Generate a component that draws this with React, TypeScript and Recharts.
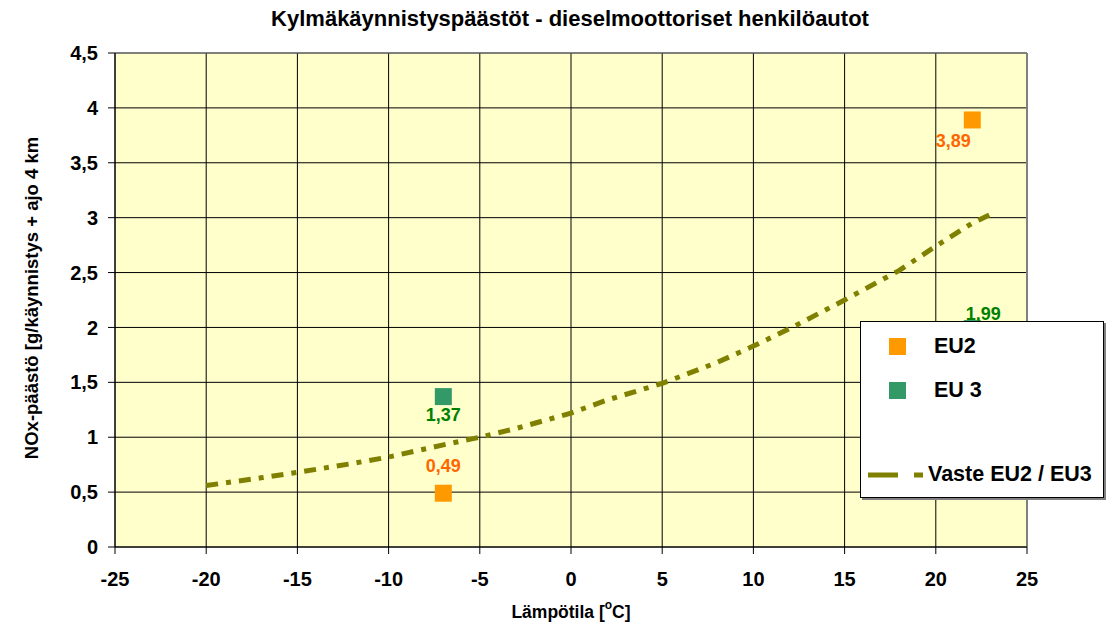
import {
  ComposedChart,
  Scatter,
  XAxis,
  YAxis,
  CartesianGrid,
  ReferenceLine,
} from "recharts";

const FONT = "Arial, 'Liberation Sans', sans-serif";

const xTicks = [-25, -20, -15, -10, -5, 0, 5, 10, 15, 20, 25];
const yTicks = [0, 0.5, 1, 1.5, 2, 2.5, 3, 3.5, 4, 4.5];

const eu2Temps = [-7, 22];
const eu2Values = [0.49, 3.89];
const eu3Temps = [-7, 22];
const eu3Values = [1.37, 1.99];

// Vaste EU2 / EU3 response curve
const curveTemps = [-20, -17, -15, -12, -10, -7, -5, -3, 0, 2, 5, 8, 10, 12, 15, 18, 20, 22, 23];
const curveValues = [0.56, 0.63, 0.68, 0.76, 0.82, 0.93, 1.0, 1.08, 1.22, 1.34, 1.49, 1.68, 1.83, 1.99, 2.25, 2.52, 2.74, 2.95, 3.03];

// label placement for each point [dx, dy]
const eu2LabelOffsets = [[0, -27], [-19, 21]];
const eu3LabelOffsets = [[0, 18], [11, -15]];

const eu2 = eu2Temps.map((t, i) => ({ t, v: eu2Values[i] }));
const eu3 = eu3Temps.map((t, i) => ({ t, v: eu3Values[i] }));
const curve = curveTemps.map((t, i) => ({ t, v: curveValues[i] }));

const fmt = (v: number) => String(v).replace(".", ",");

function squareShape(color: string, labelColor: string, offsets: number[][]) {
  return (props: any) => {
    const { cx, cy, index, payload } = props;
    const [dx, dy] = offsets[index] || [0, 0];
    return (
      <g>
        <rect x={cx - 8.5} y={cy - 8.5} width={17} height={17} fill={color} />
        <text
          x={cx + dx}
          y={cy + dy}
          textAnchor="middle"
          dominantBaseline="central"
          fontFamily={FONT}
          fontWeight="bold"
          fontSize={18}
          fill={labelColor}
        >
          {fmt(payload.v)}
        </text>
      </g>
    );
  };
}

function ChartLegend() {
  const row = { display: "flex", alignItems: "center", position: "absolute" as const };
  const label = { fontFamily: FONT, fontWeight: "bold", fontSize: 21.5, color: "#000", whiteSpace: "nowrap" as const };
  return (
    <div
      style={{
        position: "absolute",
        left: 860,
        top: 321,
        width: 244,
        height: 177,
        background: "#fff",
        border: "1px solid #000",
        boxShadow: "2px 2px 0 #808080",
        boxSizing: "border-box",
      }}
    >
      <div style={{ ...row, left: 28, top: 12 }}>
        <div style={{ width: 17, height: 17, background: "#FF9900", marginRight: 28 }} />
        <span style={label}>EU2</span>
      </div>
      <div style={{ ...row, left: 28, top: 56 }}>
        <div style={{ width: 17, height: 17, background: "#339966", marginRight: 28 }} />
        <span style={label}>EU 3</span>
      </div>
      <div style={{ ...row, left: 7, top: 140 }}>
        <svg width={58} height={10} style={{ marginRight: 2 }}>
          <line x1={0} y1={5} x2={58} y2={5} stroke="#808000" strokeWidth={5} strokeDasharray="30 16 9 20" />
        </svg>
        <span style={label}>Vaste EU2 / EU3</span>
      </div>
    </div>
  );
}

export default function App() {
  return (
    <div style={{ position: "absolute", left: 0, top: 0, width: 1107, height: 632, background: "#fff" }}>
      <ComposedChart
        width={1107}
        height={632}
        margin={{ top: 53, right: 80, bottom: 0, left: 0 }}
      >
        <CartesianGrid fill="#FFFFCC" stroke="#000" strokeOpacity={1} horizontalValues={yTicks} verticalValues={xTicks} />
        <XAxis
          type="number"
          dataKey="t"
          domain={[-25, 25]}
          ticks={xTicks}
          height={85}
          tickSize={7}
          tickMargin={18}
          stroke="#000"
          tick={{ fontFamily: FONT, fontWeight: "bold", fontSize: 20, fill: "#000" }}
          label={{
            position: "insideBottom",
            content: (p: any) => {
              const vb = p.viewBox;
              return (
                <text
                  x={vb.x + vb.width / 2}
                  y={612}
                  textAnchor="middle"
                  dominantBaseline="central"
                  fontFamily={FONT}
                  fontWeight="bold"
                  fontSize={17.5}
                  fill="#000"
                >
                  Lämpötila [
                  <tspan dy={-7} fontSize={12}>o</tspan>
                  <tspan dy={7}>C]</tspan>
                </text>
              );
            },
          }}
        />
        <YAxis
          type="number"
          dataKey="v"
          domain={[0, 4.5]}
          ticks={yTicks}
          width={115}
          tickSize={7}
          tickMargin={10}
          stroke="#000"
          tickFormatter={fmt}
          tick={{ fontFamily: FONT, fontWeight: "bold", fontSize: 20, fill: "#000" }}
          label={{
            position: "insideLeft",
            content: (p: any) => {
              const vb = p.viewBox;
              const cx = 31;
              const cy = 298;
              return (
                <text
                  x={cx}
                  y={cy}
                  transform={`rotate(-90 ${cx} ${cy})`}
                  textAnchor="middle"
                  dominantBaseline="central"
                  fontFamily={FONT}
                  fontWeight="bold"
                  fontSize={18.5}
                  fill="#000"
                >
                  NOx-päästö [g/käynnistys + ajo 4 km
                </text>
              );
            },
          }}
        />
        <ReferenceLine x={25} stroke="#808080" strokeWidth={2} />
        <ReferenceLine y={4.5} stroke="#808080" strokeWidth={1} />
        <Scatter
          name="Vaste EU2 / EU3"
          data={curve}
          line={{ stroke: "#808000", strokeWidth: 5, strokeDasharray: "12 8 5 8" }}
          shape={() => <g />}
          isAnimationActive={false}
        />
        <Scatter
          name="EU2"
          data={eu2}
          fill="#FF9900"
          shape={squareShape("#FF9900", "#FF6600", eu2LabelOffsets)}
          isAnimationActive={false}
        />
        <Scatter
          name="EU 3"
          data={eu3}
          fill="#339966"
          shape={squareShape("#339966", "#008000", eu3LabelOffsets)}
          isAnimationActive={false}
        />
      </ComposedChart>
      <div
        style={{
          position: "absolute",
          left: 0,
          top: 6,
          width: 1140,
          textAlign: "center",
          fontFamily: FONT,
          fontWeight: "bold",
          fontSize: 22,
        }}
      >
        Kylmäkäynnistyspäästöt - dieselmoottoriset henkilöautot
      </div>
      <ChartLegend />
    </div>
  );
}
